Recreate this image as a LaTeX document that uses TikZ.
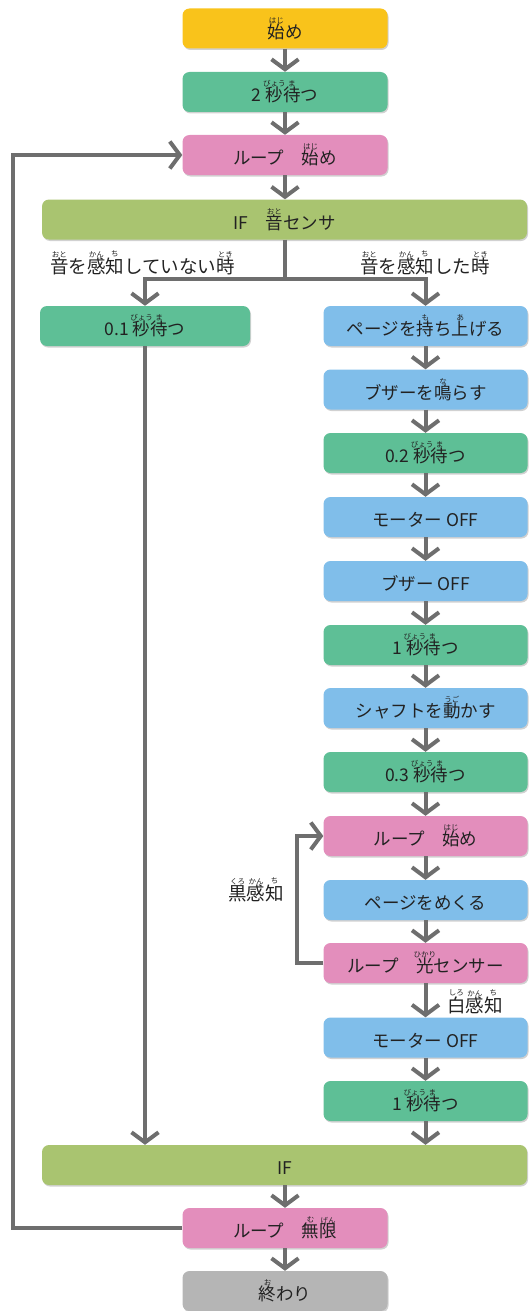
\documentclass[tikz,border=0pt]{standalone}
\usepackage{fontspec}
\setmainfont{Noto Sans CJK JP}
\usetikzlibrary{arrows.meta,shadows}
\definecolor{cyel}{HTML}{F9C31B}
\definecolor{cgrn}{HTML}{5EBF96}
\definecolor{cpnk}{HTML}{E38EBC}
\definecolor{cif}{HTML}{A9C470}
\definecolor{cblu}{HTML}{80BEEA}
\definecolor{cgry}{HTML}{B5B5B5}
\definecolor{agray}{HTML}{6E6E6E}
\definecolor{txt}{HTML}{222222}
\newbox\rbbox
\newcommand\rbfont{\fontsize{7.5}{7.5}\selectfont}
\newcommand\rb[2]{\leavevmode\setbox\rbbox\hbox{#1}\vbox{\offinterlineskip\hbox to\wd\rbbox{\hss{\rbfont #2}\hss}\kern0pt\box\rbbox}}
\tikzset{
  box/.style={rounded corners=7pt, minimum height=40pt, inner sep=0pt,
    text height=19.5pt, text depth=0pt, font=\fontsize{17.5}{20}\selectfont, text=txt,
    drop shadow={shadow xshift=1pt, shadow yshift=-1.5pt, opacity=0.3, fill=black!60}},
  cbox/.style={box, minimum width=205pt},
  lbox/.style={box, minimum width=210pt},
  rbox/.style={box, minimum width=204pt},
  wbox/.style={box, minimum width=485pt},
  lbl/.style={inner sep=0pt, font=\fontsize{18.5}{20}\selectfont, text=txt},
  conn/.style={draw=agray, line width=4pt},
  arr/.style={conn, -{Straight Barb[length=10pt,width=27pt]}},
}
\begin{document}
\begin{tikzpicture}[x=1pt,y=-1pt]
\useasboundingbox (0,0) rectangle (529,1311);
% centre column
\node[cbox, fill=cyel] (start) at (285,28.5) {\rb{始}{はじ}め};
\node[cbox, fill=cgrn] (wait2) at (285,92) {2 \rb{秒}{びょう}\rb{待}{ま}つ};
\node[cbox, fill=cpnk] (loopa) at (285,155) {ループ　\rb{始}{はじ}め};
\node[wbox, fill=cif] (if1) at (284.5,219.5) {IF　\rb{音}{おと}センサ};
% branch labels
\node[lbl, anchor=base west] (lno) at (50,273) {\rb{音}{おと}を\rb{感}{かん}\rb{知}{ち}していない\rb{時}{とき}};
\node[lbl, anchor=base west] (lyes) at (360,273) {\rb{音}{おと}を\rb{感}{かん}\rb{知}{ち}した\rb{時}{とき}};
% left column
\node[lbox, fill=cgrn] (wait01) at (145,326) {0.1 \rb{秒}{びょう}\rb{待}{ま}つ};
% right column
\node[rbox, fill=cblu] (lift) at (425.5,326) {ページを\rb{持}{も}ち\rb{上}{あ}げる};
\node[rbox, fill=cblu] (buzz) at (425.5,389.5) {ブザーを\rb{鳴}{な}らす};
\node[rbox, fill=cgrn] (wait02) at (425.5,453) {0.2 \rb{秒}{びょう}\rb{待}{ま}つ};
\node[rbox, fill=cblu] (motoff) at (425.5,517) {モーター OFF};
\node[rbox, fill=cblu] (buzoff) at (425.5,581) {ブザー OFF};
\node[rbox, fill=cgrn] (wait1a) at (425.5,645) {1 \rb{秒}{びょう}\rb{待}{ま}つ};
\node[rbox, fill=cblu] (shaft) at (425.5,708) {シャフトを\rb{動}{うご}かす};
\node[rbox, fill=cgrn] (wait03) at (425.5,772) {0.3 \rb{秒}{びょう}\rb{待}{ま}つ};
\node[rbox, fill=cpnk] (loopb) at (425.5,836) {ループ　\rb{始}{はじ}め};
\node[rbox, fill=cblu] (turn) at (425.5,900) {ページをめくる};
\node[rbox, fill=cpnk] (loopl) at (425.5,963) {ループ　\rb{光}{ひかり}センサー};
\node[rbox, fill=cblu] (motoff2) at (425.5,1037.5) {モーター OFF};
\node[rbox, fill=cgrn] (wait1b) at (425.5,1101) {1 \rb{秒}{びょう}\rb{待}{ま}つ};
\node[lbl, anchor=base] (black) at (256,900) {\rb{黒}{くろ}\rb{感}{かん}\rb{知}{ち}};
\node[lbl, anchor=base west] (white) at (447,1012) {\rb{白}{しろ}\rb{感}{かん}\rb{知}{ち}};
% bottom
\node[wbox, fill=cif] (if2) at (284.5,1165) {IF};
\node[cbox, fill=cpnk] (loopinf) at (285,1228) {ループ　\rb{無}{む}\rb{限}{げん}};
\node[cbox, fill=cgry] (end) at (285,1291) {\rb{終}{お}わり};
% connectors
\draw[arr] (start) -- (wait2);
\draw[arr] (wait2) -- (loopa);
\draw[arr] (loopa) -- (if1.north -| loopa);
\coordinate (br) at (285,279);
\draw[conn] (if1.south -| br) -- (br);
\draw[arr] (br) -| (wait01.north);
\draw[arr] (br) -| (lift.north);
\draw[arr] (lift) -- (buzz);
\draw[arr] (buzz) -- (wait02);
\draw[arr] (wait02) -- (motoff);
\draw[arr] (motoff) -- (buzoff);
\draw[arr] (buzoff) -- (wait1a);
\draw[arr] (wait1a) -- (shaft);
\draw[arr] (shaft) -- (wait03);
\draw[arr] (wait03) -- (loopb);
\draw[arr] (loopb) -- (turn);
\draw[arr] (turn) -- (loopl);
\draw[arr] (loopl) -- (motoff2);
\draw[arr] (motoff2) -- (wait1b);
\draw[arr] (wait1b.south) -- (if2.north -| wait1b);
\draw[arr] (wait01.south) -- (if2.north -| wait01);
\draw[arr] (if2.south -| loopinf) -- (loopinf);
\draw[arr] (loopinf) -- (end);
\coordinate (ol) at (13,1228);
\draw[arr] (loopinf.west) -- (ol) |- (loopa.west);
\coordinate (il) at (297,963);
\draw[arr] (loopl.west) -- (il) |- (loopb.west);
\end{tikzpicture}
\end{document}
